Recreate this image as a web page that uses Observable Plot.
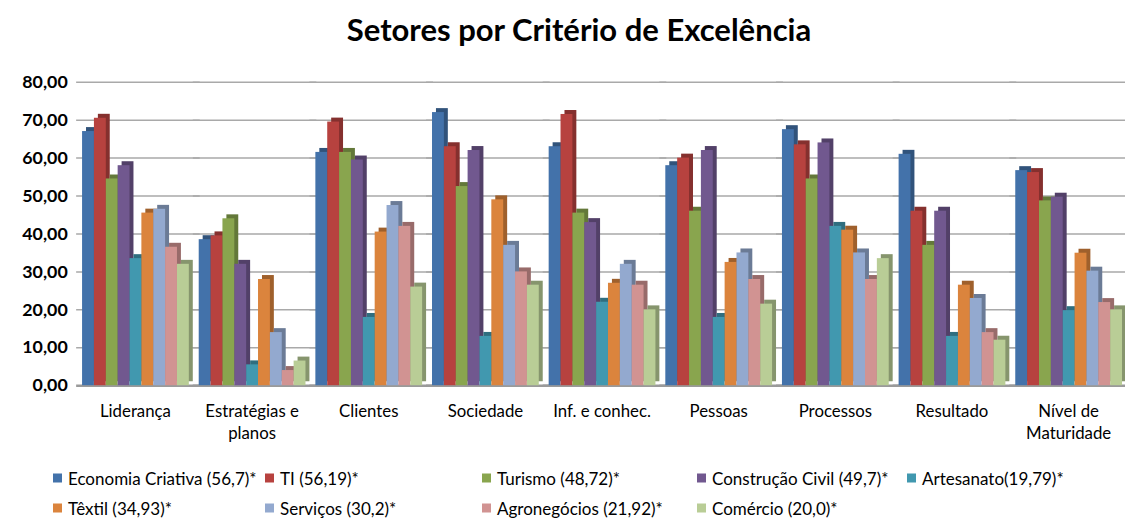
<!DOCTYPE html>
<html>
<head>
<meta charset="utf-8">
<script src="https://cdn.jsdelivr.net/npm/d3@7"></script>
<script src="https://cdn.jsdelivr.net/npm/@observablehq/plot@0.6"></script>
<style>
  html, body { margin: 0; padding: 0; background: #fff; }
  body { width: 1125px; height: 520px; overflow: hidden; position: relative; font-family: Lato, "Open Sans", sans-serif; }
  #title { height: 58px; line-height: 58px; text-align: center; font-weight: bold; font-size: 31px; color: #000; padding-left: 33px; box-sizing: border-box; width: 1125px; }
  #chart { height: 400px; }
  #chart svg { display: block; }
  #legend { position: relative; height: 62px; width: 1125px; }
  .li { position: absolute; display: flex; align-items: center; font-size: 17px; color: #000; white-space: nowrap; transform: translateY(-50%); }
  .sw { width: 9px; height: 9px; margin-right: 6px; }
</style>
</head>
<body>
<div id="title">Setores por Critério de Excelência</div>
<div id="chart"></div>
<div id="legend"></div>
<script>
// ---- data ----
const categories = ["Liderança", "Estratégias e\nplanos", "Clientes", "Sociedade", "Inf. e conhec.", "Pessoas", "Processos", "Resultado", "Nível de\nMaturidade"];
const seriesNames = ["Economia Criativa", "TI", "Turismo", "Construção Civil", "Artesanato", "Têxtil", "Serviços", "Agronegócios", "Comércio"];
const legendLabels = ["Economia Criativa (56,7)*", "TI (56,19)*", "Turismo (48,72)*", "Construção Civil (49,7)*", "Artesanato(19,79)*", "Têxtil (34,93)*", "Serviços (30,2)*", "Agronegócios (21,92)*", "Comércio (20,0)*"];
const economiaCriativa = [67, 38.5, 61.5, 72, 63, 58, 67.5, 61, 56.7];
const ti              = [70.5, 39.5, 69.5, 63, 71.5, 60, 63.5, 46, 56.19];
const turismo         = [54.5, 44, 61.5, 52.5, 45.5, 46, 54.5, 37, 48.72];
const construcaoCivil = [58, 32, 59.5, 62, 43, 62, 64, 46, 49.7];
const artesanato      = [33.5, 5.5, 18, 13, 22, 18, 42, 13, 19.79];
const textil          = [45.5, 28, 40.5, 49, 27, 32.5, 41, 26.5, 34.93];
const servicos        = [46.5, 14, 47.5, 37, 32, 35, 35, 23, 30.2];
const agronegocios    = [36.5, 4, 42, 30, 26.5, 28, 28, 14, 21.92];
const comercio        = [32, 6.5, 26, 26.5, 20, 21.5, 33.5, 12, 20.0];
const yTicks = [0, 10, 20, 30, 40, 50, 60, 70, 80];

// ---- styles ----
const colors = ["#4372AA", "#B7423F", "#89A54E", "#71588F", "#4198AF", "#DB843D", "#93A9CF", "#D19392", "#B9CD96"];
const darkColors = colors.map(c => d3.color(c).darker(0.9).formatHex());

const seriesValues = [economiaCriativa, ti, turismo, construcaoCivil, artesanato, textil, servicos, agronegocios, comercio];
const rows = [];
categories.forEach((cat, ci) => {
  seriesNames.forEach((s, si) => rows.push({cat, series: s, value: seriesValues[si][ci]}));
});

const fmt = d => d.toFixed(2).replace(".", ",");

const chart = Plot.plot({
  width: 1138,
  height: 400,
  marginLeft: 78,
  marginRight: 0,
  marginTop: 24,
  marginBottom: 69,
  style: {fontFamily: "Lato, 'Open Sans', sans-serif", background: "#fff"},
  fx: {domain: categories, paddingInner: 0.06, paddingOuter: 0.015, axis: null},
  x: {domain: seriesNames, padding: 0, axis: null},
  y: {domain: [0, 80], axis: null},
  color: {domain: seriesNames, range: colors},
  marks: [
    Plot.ruleY(yTicks.slice(1), {stroke: "#A9A9A9", strokeWidth: 1.5, insetLeft: -4, insetRight: -10}),
    Plot.ruleY([0], {stroke: "#9A9A9A", strokeWidth: 2.5, insetLeft: -4, insetRight: -10}),
    Plot.barY(rows, {fx: "cat", x: "series", y: "value", fill: d => darkColors[seriesNames.indexOf(d.series)], dx: 4, dy: -4}),
    Plot.barY(rows, {fx: "cat", x: "series", y: "value", fill: "series"}),
    Plot.text(categories, {fx: d => d, text: d => d, frameAnchor: "bottom", lineAnchor: "top", dy: 16, lineHeight: 1.3, fontSize: 17, fill: "#000"}),
    Plot.axisY({ticks: yTicks, label: null, tickSize: 0, tickPadding: 13, tickFormat: fmt, fontSize: 18, fontWeight: "bold", fill: "#000", letterSpacing: "0.6px"})
  ]
});
document.getElementById("chart").appendChild(chart);

// ---- legend ----
const legendX = [53, 265, 482, 697, 907, 53, 265, 482, 697];
const legendY = [20, 20, 20, 20, 20, 50, 50, 50, 50];
const legend = document.getElementById("legend");
legendLabels.forEach((lab, i) => {
  const it = document.createElement("div");
  it.className = "li";
  it.style.left = legendX[i] + "px";
  it.style.top = legendY[i] + "px";
  const sw = document.createElement("span");
  sw.className = "sw";
  sw.style.background = colors[i];
  it.appendChild(sw);
  const t = document.createElement("span");
  t.textContent = lab;
  it.appendChild(t);
  legend.appendChild(it);
});
</script>
</body>
</html>
